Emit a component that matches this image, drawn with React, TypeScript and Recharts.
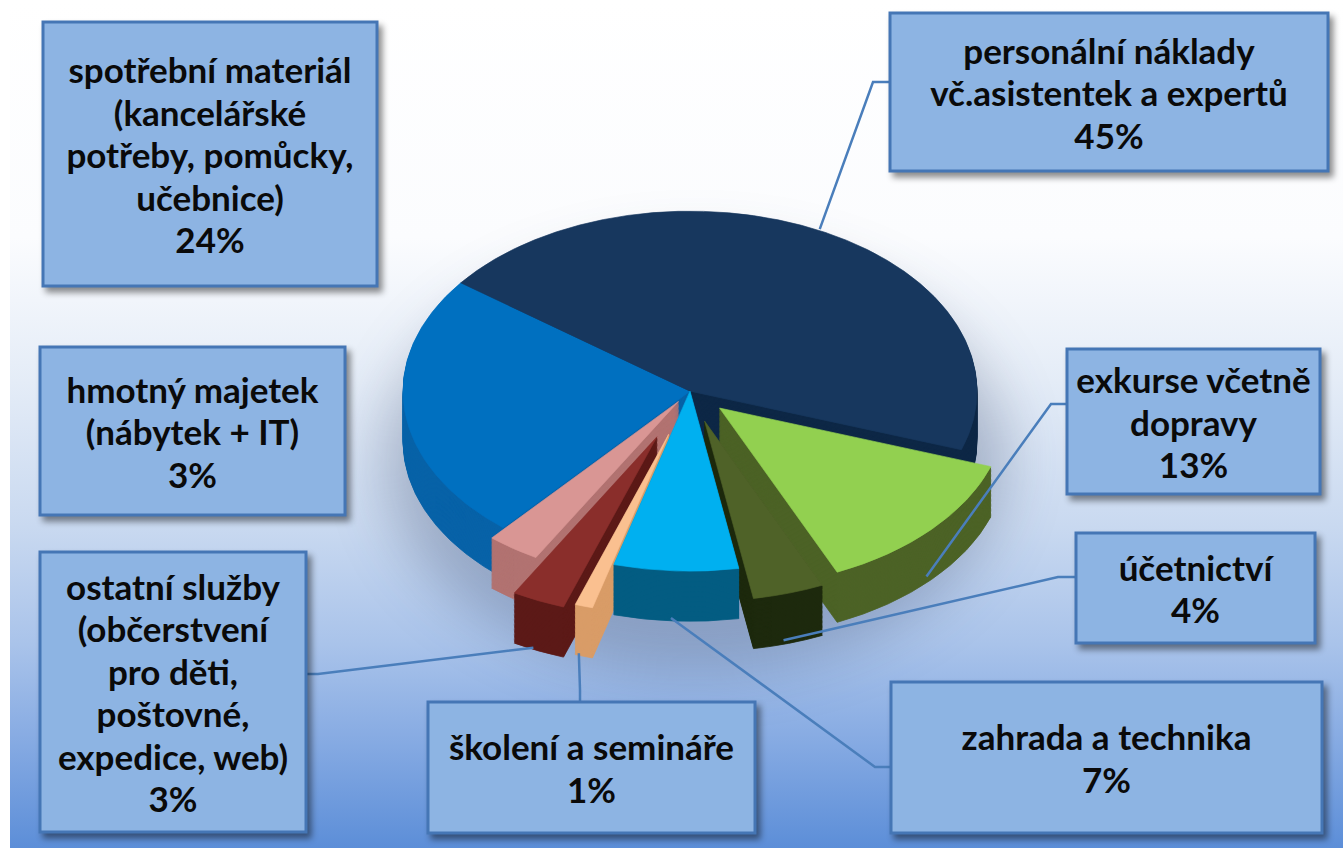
import React from 'react';
import { PieChart, Pie, Cell } from 'recharts';

// ---------- data ----------
const categories = [
  'spotřební materiál (kancelářské potřeby, pomůcky, učebnice)',
  'personální náklady vč.asistentek a expertů',
  'exkurse včetně dopravy',
  'účetnictví',
  'zahrada a technika',
  'školení a semináře',
  'ostatní služby (občerstvení pro děti, poštovné, expedice, web)',
  'hmotný majetek (nábytek + IT)',
];
const values = [24, 45, 13, 4, 7, 1, 3, 3];
const labelLines = [
  ['spotřební materiál', '(kancelářské', 'potřeby, pomůcky,', 'učebnice)'],
  ['personální náklady', 'vč.asistentek a expertů'],
  ['exkurse včetně', 'dopravy'],
  ['účetnictví'],
  ['zahrada a technika'],
  ['školení a semináře'],
  ['ostatní služby', '(občerstvení', 'pro děti,', 'poštovné,', 'expedice, web)'],
  ['hmotný majetek', '(nábytek + IT)'],
];

// ---------- styles / layout ----------
const topColors = ['#0070c0', '#17375e', '#92d050', '#4f6228', '#00b0f0', '#fac090', '#8a2e2b', '#d99694'];
const sideColors = ['#0862a8', '#0e2846', '#4c6326', '#1e2a0e', '#045d82', '#d99c68', '#5c1a18', '#b27371'];
const explode = [0, 0, 40, 50, 0, 72, 80, 20];

const W = 1343;
const H = 848;
const CX = 685;
const CY = 388;
const R = 287;
const K = 0.627;
const DEPTH = 80; // pre-scale units
const START = 229.4;

type Box = { x: number; y: number; w: number; h: number; elbow?: [number, number]; end?: [number, number] };
const boxes: Box[] = [
  { x: 43, y: 22, w: 334, h: 264 },
  { x: 890, y: 13, w: 438, h: 158, elbow: [873, 82], end: [890, 82] },
  { x: 1067, y: 349, w: 253, h: 145, elbow: [1051, 404], end: [1067, 404] },
  { x: 1076, y: 533, w: 239, h: 110, elbow: [1058, 577], end: [1076, 577] },
  { x: 891, y: 682, w: 431, h: 151, elbow: [875, 767], end: [891, 767] },
  { x: 428, y: 702, w: 327, h: 131, elbow: [580, 690], end: [580, 702] },
  { x: 40, y: 552, w: 266, h: 280, elbow: [318, 674], end: [306, 674] },
  { x: 40, y: 347, w: 305, h: 168 },
];

const data = categories.map((name, i) => ({ name, value: values[i] }));
const total = values.reduce((a, b) => a + b, 0);
const mids = values.map((v, i) => {
  const before = values.slice(0, i).reduce((a, b) => a + b, 0);
  const s = START - (before / total) * 360;
  return s - (v / total) * 180;
});

const css = `
.pie3d { transform-box: view-box; transform-origin: ${CX}px ${CY}px; transform: scaleY(${K}); }
${mids
  .map((m, i) => {
    const r = (m * Math.PI) / 180;
    const dx = explode[i] * Math.cos(r);
    const dy = -explode[i] * Math.sin(r);
    return `.ex${i} { transform-box: view-box; transform: translate(${dx.toFixed(2)}px, ${dy.toFixed(2)}px); }`;
  })
  .join('\n')}
`;

const layers: number[] = [];
for (let t = DEPTH; t >= 2; t -= 2) layers.push(t);

const FONT = 'Lato, "Open Sans", sans-serif';
const LINE_H = 42.5;

const renderLabel = (props: any) => {
  const { midAngle, index } = props;
  const b = boxes[index];
  const lines = [...labelLines[index], `${values[index]}%`];
  const n = lines.length;
  const bx = b.x + b.w / 2;
  const by = b.y + b.h / 2;
  let leader = null;
  if (b.end && b.elbow) {
    const rad = (midAngle * Math.PI) / 180;
    const d = explode[index];
    const ax = CX + (R + d) * Math.cos(rad);
    const front = Math.sin(rad) < 0;
    const ay = CY - (R + d) * Math.sin(rad) * K + (front ? DEPTH * K : 0);
    leader = (
      <polyline
        points={`${ax},${ay} ${b.elbow[0]},${b.elbow[1]} ${b.end[0]},${b.end[1]}`}
        fill="none"
        stroke="#4a7ebb"
        strokeWidth={2.5}
      />
    );
  }
  return (
    <g key={`lbl-${index}`}>
      {leader}
      <rect
        x={b.x}
        y={b.y}
        width={b.w}
        height={b.h}
        fill="#8db4e3"
        stroke="#4576b5"
        strokeWidth={3}
        style={{ filter: 'drop-shadow(4px 5px 3px rgba(0,0,0,0.45))' }}
      />
      <text
        x={bx}
        textAnchor="middle"
        fontFamily={FONT}
        fontWeight={700}
        fontSize={35}
        fill="#0a0a0a"
      >
        {lines.map((ln, i) => (
          <tspan key={i} x={bx} y={by + (i - (n - 1) / 2) * LINE_H} dominantBaseline="central">
            {ln}
          </tspan>
        ))}
      </text>
    </g>
  );
};

export default function App() {
  return (
    <div style={{ position: 'absolute', left: 0, top: 0, width: W, height: H, overflow: 'hidden', background: '#ffffff' }}>
      <style>{css}</style>
      <div
        style={{
          position: 'absolute',
          left: 10,
          top: 0,
          width: W - 10,
          height: H,
          background:
            'linear-gradient(to bottom, #ffffff 0%, #fbfcfe 28%, #e4ecf7 45%, #c9d9f0 62%, #a9c3ea 76%, #84a9e2 88%, #5c8ed8 100%)',
        }}
      />
      <div
        style={{
          position: 'absolute',
          left: CX - 300,
          top: 250,
          width: 620,
          height: 420,
          borderRadius: '50%',
          background: 'rgba(40,55,90,0.28)',
          filter: 'blur(28px)',
        }}
      />
      <div style={{ position: 'absolute', left: 0, top: 0 }}>
        <PieChart width={W} height={H}>
          {layers.map((t) => (
            <Pie
              key={`side-${t}`}
              className="pie3d"
              data={data}
              dataKey="value"
              nameKey="name"
              cx={CX}
              cy={CY + t}
              outerRadius={R}
              startAngle={START}
              endAngle={START - 360}
              isAnimationActive={false}
              stroke="none"
              label={false}
              labelLine={false}
            >
              {data.map((_, i) => (
                <Cell key={i} className={`ex${i}`} fill={sideColors[i]} stroke={sideColors[i]} strokeWidth={1} />
              ))}
            </Pie>
          ))}
          <Pie
            key="top"
            className="pie3d"
            data={data}
            dataKey="value"
            nameKey="name"
            cx={CX}
            cy={CY}
            outerRadius={R}
            startAngle={START}
            endAngle={START - 360}
            isAnimationActive={false}
            stroke="none"
            label={false}
            labelLine={false}
          >
            {data.map((_, i) => (
              <Cell key={i} className={`ex${i}`} fill={topColors[i]} stroke={topColors[i]} strokeWidth={0.8} />
            ))}
          </Pie>
          <Pie
            key="labels"
            data={data}
            dataKey="value"
            nameKey="name"
            cx={CX}
            cy={CY}
            outerRadius={R}
            startAngle={START}
            endAngle={START - 360}
            isAnimationActive={false}
            fill="none"
            stroke="none"
            label={renderLabel}
            labelLine={false}
          >
            {data.map((_, i) => (
              <Cell key={i} fill="none" stroke="none" />
            ))}
          </Pie>
        </PieChart>
      </div>
    </div>
  );
}
